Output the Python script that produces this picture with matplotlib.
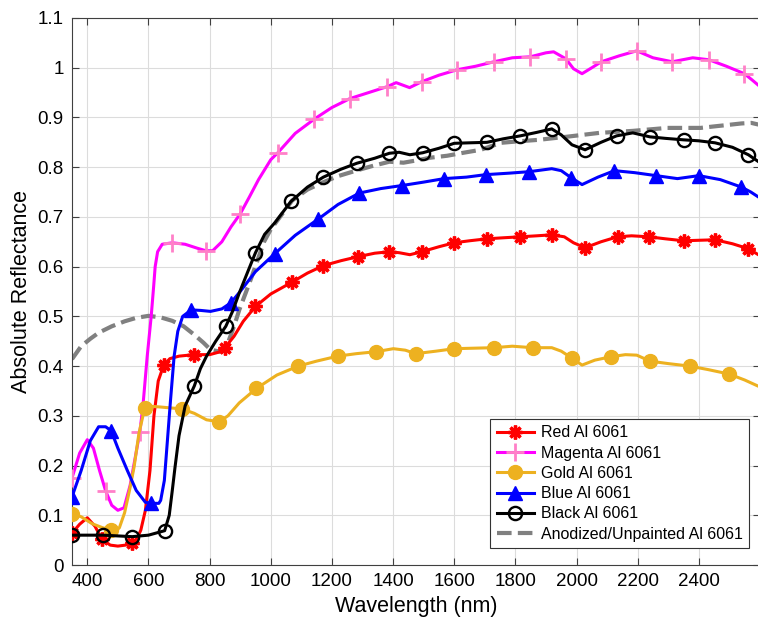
import numpy as np
import matplotlib
matplotlib.use('Agg')
import matplotlib.pyplot as plt
from matplotlib.ticker import FormatStrFormatter

# reflectance curves (wavelength in nm)
red_wl = [350, 375, 400, 425, 448, 475, 500, 525, 547, 560, 575, 590, 605, 618, 632, 650, 670, 700,
          748, 800, 830, 850, 880, 910, 950, 1000, 1070, 1120, 1172, 1230, 1285, 1340, 1388, 1420,
          1455, 1494, 1550, 1600, 1650, 1707, 1760, 1816, 1870, 1919, 1960, 1990, 2028, 2080, 2134,
          2180, 2237, 2290, 2350, 2400, 2453, 2510, 2562, 2600]
red_r = [0.064, 0.082, 0.095, 0.078, 0.052, 0.040, 0.038, 0.040, 0.045, 0.050, 0.070, 0.110, 0.190,
         0.300, 0.370, 0.402, 0.415, 0.420, 0.423, 0.423, 0.428, 0.437, 0.460, 0.490, 0.520, 0.545,
         0.569, 0.587, 0.602, 0.612, 0.620, 0.627, 0.630, 0.628, 0.624, 0.630, 0.640, 0.648, 0.652,
         0.656, 0.658, 0.660, 0.662, 0.664, 0.660, 0.648, 0.638, 0.650, 0.660, 0.662, 0.660, 0.656,
         0.652, 0.653, 0.654, 0.646, 0.636, 0.622]
red_marks = [350, 448, 547, 650, 748, 850, 950, 1070, 1172, 1285, 1388, 1494, 1600, 1707, 1816,
             1919, 2028, 2134, 2237, 2350, 2453, 2562]

mag_wl = [350, 375, 400, 420, 440, 460, 480, 500, 520, 540, 555, 572, 582, 596, 609, 617, 622, 630,
          645, 678, 720, 760, 788, 810, 840, 870, 900, 930, 960, 1000, 1023, 1080, 1143, 1200, 1259,
          1320, 1381, 1410, 1454, 1494, 1550, 1610, 1670, 1730, 1790, 1849, 1900, 1925, 1965, 1990,
          2018, 2050, 2081, 2140, 2197, 2250, 2313, 2380, 2433, 2490, 2549, 2575, 2600]
mag_r = [0.175, 0.225, 0.252, 0.235, 0.190, 0.149, 0.120, 0.110, 0.115, 0.160, 0.210, 0.268, 0.320,
         0.420, 0.500, 0.560, 0.600, 0.630, 0.645, 0.648, 0.645, 0.637, 0.632, 0.632, 0.650, 0.680,
         0.706, 0.740, 0.775, 0.815, 0.829, 0.868, 0.897, 0.920, 0.938, 0.950, 0.962, 0.970, 0.960,
         0.972, 0.985, 0.996, 1.003, 1.012, 1.020, 1.022, 1.030, 1.032, 1.018, 0.998, 0.988, 1.000,
         1.012, 1.024, 1.034, 1.020, 1.012, 1.020, 1.016, 1.003, 0.988, 0.975, 0.962]
mag_marks = [350, 460, 572, 678, 788, 900, 1023, 1143, 1259, 1381, 1494, 1610, 1730, 1849, 1965,
             2081, 2197, 2313, 2433, 2549]

gold_wl = [350, 380, 416, 450, 478, 490, 505, 522, 538, 553, 569, 588, 610, 634, 670, 709, 750, 790,
           831, 860, 897, 953, 1020, 1090, 1150, 1219, 1280, 1345, 1401, 1440, 1474, 1540, 1600,
           1665, 1730, 1790, 1856, 1919, 1950, 1985, 2018, 2060, 2114, 2160, 2197, 2240, 2300, 2370,
           2430, 2499, 2550, 2600]
gold_r = [0.103, 0.097, 0.083, 0.075, 0.070, 0.066, 0.075, 0.105, 0.150, 0.197, 0.265, 0.316, 0.319,
          0.318, 0.316, 0.314, 0.305, 0.292, 0.288, 0.300, 0.326, 0.355, 0.382, 0.400, 0.410, 0.420,
          0.425, 0.429, 0.435, 0.432, 0.425, 0.430, 0.435, 0.436, 0.437, 0.440, 0.437, 0.437, 0.430,
          0.416, 0.402, 0.412, 0.419, 0.423, 0.422, 0.410, 0.405, 0.400, 0.393, 0.384, 0.372, 0.358]
gold_marks = [350, 478, 588, 709, 831, 953, 1090, 1219, 1345, 1474, 1600, 1730, 1856, 1985, 2114,
              2240, 2370, 2499]

blue_wl = [350, 380, 410, 437, 460, 478, 500, 531, 560, 590, 609, 634, 640, 652, 662, 672, 684, 696,
           712, 740, 770, 803, 840, 869, 900, 950, 1013, 1080, 1156, 1220, 1290, 1360, 1428, 1500,
           1567, 1640, 1703, 1780, 1846, 1919, 1950, 1982, 2018, 2070, 2124, 2190, 2260, 2330, 2400,
           2470, 2539, 2570, 2600]
blue_r = [0.137, 0.190, 0.250, 0.278, 0.278, 0.270, 0.235, 0.190, 0.150, 0.126, 0.124, 0.124, 0.130,
          0.170, 0.250, 0.330, 0.420, 0.470, 0.500, 0.513, 0.512, 0.510, 0.515, 0.527, 0.550, 0.590,
          0.626, 0.663, 0.696, 0.725, 0.748, 0.757, 0.763, 0.770, 0.777, 0.780, 0.785, 0.788, 0.791,
          0.797, 0.793, 0.779, 0.765, 0.780, 0.793, 0.789, 0.783, 0.777, 0.783, 0.775, 0.760, 0.750,
          0.738]
blue_marks = [350, 478, 609, 740, 869, 1013, 1156, 1290, 1428, 1567, 1703, 1846, 1982, 2124, 2260,
              2400, 2539]

black_wl = [350, 452, 547, 600, 653, 668, 678, 687, 700, 720, 750, 770, 790, 820, 853, 875, 897, 925,
            950, 980, 1013, 1066, 1120, 1172, 1230, 1282, 1340, 1388, 1420, 1455, 1497, 1550, 1600,
            1650, 1707, 1760, 1816, 1870, 1919, 1950, 1985, 2028, 2080, 2131, 2184, 2240, 2290, 2350,
            2400, 2453, 2510, 2562, 2600]
black_r = [0.060, 0.060, 0.057, 0.060, 0.069, 0.100, 0.150, 0.197, 0.260, 0.320, 0.360, 0.395, 0.420,
           0.450, 0.480, 0.510, 0.547, 0.590, 0.628, 0.665, 0.688, 0.731, 0.760, 0.780, 0.796, 0.808,
           0.818, 0.828, 0.830, 0.825, 0.829, 0.838, 0.848, 0.849, 0.850, 0.857, 0.863, 0.870, 0.877,
           0.865, 0.845, 0.835, 0.850, 0.863, 0.869, 0.861, 0.858, 0.855, 0.853, 0.849, 0.840, 0.825,
           0.809]
black_marks = [350, 452, 547, 653, 750, 853, 950, 1066, 1172, 1282, 1388, 1497, 1600, 1707, 1816,
               1919, 2028, 2131, 2240, 2350, 2453, 2562]

anod_wl = [350, 380, 410, 437, 480, 522, 560, 600, 640, 678, 715, 750, 780, 803, 834, 860, 880, 897,
           918, 938, 958, 978, 1000, 1023, 1070, 1120, 1169, 1220, 1279, 1330, 1388, 1434, 1480,
           1521, 1577, 1630, 1687, 1720, 1753, 1810, 1876, 1920, 1965, 2020, 2075, 2130, 2184, 2240,
           2297, 2350, 2406, 2450, 2496, 2540, 2572, 2600]
anod_r = [0.414, 0.440, 0.455, 0.467, 0.480, 0.490, 0.497, 0.501, 0.498, 0.491, 0.480, 0.463, 0.447,
          0.433, 0.429, 0.447, 0.480, 0.513, 0.547, 0.580, 0.615, 0.650, 0.675, 0.694, 0.733, 0.755,
          0.769, 0.782, 0.793, 0.802, 0.811, 0.809, 0.814, 0.819, 0.823, 0.829, 0.835, 0.842, 0.849,
          0.852, 0.855, 0.858, 0.861, 0.865, 0.869, 0.871, 0.873, 0.876, 0.879, 0.879, 0.879, 0.882,
          0.885, 0.888, 0.889, 0.885]

x_ticks = np.arange(400, 2401, 200)
y_ticks = np.arange(0, 1.11, 0.1)

plt.rcParams['font.family'] = ['Liberation Sans', 'DejaVu Sans']

fig = plt.figure(figsize=(7.58, 6.23), dpi=100)
ax = fig.add_axes([72 / 758, 58 / 623, 688 / 758, 547 / 623])

lw = 2.2
series = [
    (red_wl, red_r, red_marks, dict(color='#FF0000', marker=(8, 2, 0), ms=10, mew=2.4,
                                     mfc='#FF0000', mec='#FF0000', label='Red Al 6061')),
    (mag_wl, mag_r, mag_marks, dict(color='#FF00FF', marker='+', ms=13, mew=2.0,
                                     mec='#FF80C8', label='Magenta Al 6061')),
    (gold_wl, gold_r, gold_marks, dict(color='#EDB120', marker='o', ms=10,
                                        mfc='#EDB120', mec='#EDB120', label='Gold Al 6061')),
    (blue_wl, blue_r, blue_marks, dict(color='#0000FF', marker='^', ms=10,
                                        mfc='#0000FF', mec='#0000FF', label='Blue Al 6061')),
    (black_wl, black_r, black_marks, dict(color='black', marker='o', ms=9.5, mew=1.7,
                                           mfc='none', mec='black', label='Black Al 6061')),
]

for wl, r, marks, style in series:
    wl = np.array(wl)
    ax.plot(wl, r, lw=lw, markevery=list(np.isin(wl, marks)), zorder=3, **style)

ax.plot(anod_wl, anod_r, color='#808080', lw=3, dashes=(3.5, 1.5), zorder=2,
        label='Anodized/Unpainted Al 6061')

ax.set_xlim(350, 2600)
ax.set_ylim(0, 1.1)
ax.set_xticks(x_ticks)
ax.set_yticks(y_ticks)
ax.yaxis.set_major_formatter(FormatStrFormatter('%g'))
ax.grid(True, color='#DCDCDC', lw=0.8)
ax.set_axisbelow(True)
ax.tick_params(direction='in', top=True, right=True, length=5, labelsize=13.5,
               color='#404040', pad=6)
for s in ax.spines.values():
    s.set_color('#404040')
    s.set_linewidth(0.8)

ax.set_xlabel('Wavelength (nm)', fontsize=15.5, labelpad=4)
ax.set_ylabel('Absolute Reflectance', fontsize=15.5, labelpad=4)

leg = ax.legend(loc='lower right', bbox_to_anchor=(0.984, 0.031), borderaxespad=0,
                fontsize=11.5, fancybox=False, framealpha=1, edgecolor='#333333',
                handlelength=2.3, handletextpad=0.45, labelspacing=0.33, borderpad=0.4)
leg.get_frame().set_linewidth(0.8)

fig.savefig('out.png', dpi=100)
